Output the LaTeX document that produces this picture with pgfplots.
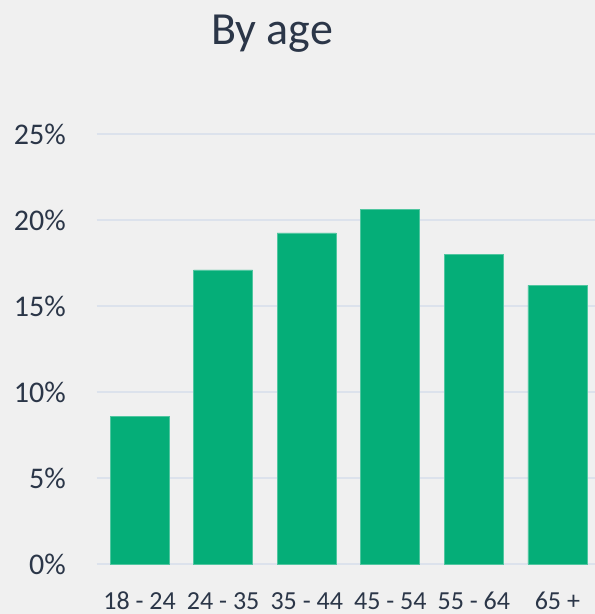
\documentclass[border=0pt]{standalone}
\usepackage{fontspec}
\setmainfont{Carlito}
\usepackage{pgfplots}
\pgfplotsset{compat=1.18}
\definecolor{bg}{HTML}{F0F0F0}
\definecolor{txt}{HTML}{2B3648}
\definecolor{barc}{HTML}{05AE78}
\definecolor{gridc}{HTML}{DCE2EC}
\begin{document}
\begin{tikzpicture}[x=1pt,y=1pt]
\fill[bg] (0,0) rectangle (595,614);
\begin{axis}[
  at={(97pt,50pt)}, anchor=south west,
  scale only axis, width=498pt, height=430pt,
  xmin=-0.51, xmax=5.45, ymin=0, ymax=25,
  axis line style={draw=none},
  major tick length=0pt,
  ytick={0,5,10,15,20,25},
  ymajorgrids, grid style={gridc, line width=1.5pt},
  xtick=data,
  xticklabels={18 - 24, 24 - 35, 35 - 44, 45 - 54, 55 - 64, 65 +},
  yticklabel={\pgfmathprintnumber{\tick}\%},
  /pgf/number format/assume math mode=true,
  xticklabel style={font=\fontsize{26}{28}\selectfont, text=txt, anchor=base, inner sep=0pt, yshift=-45pt},
  yticklabel style={font=\fontsize{30}{32}\selectfont, text=txt, anchor=east, inner sep=0pt, xshift=-31pt},
  clip=false,
]
\addplot[ybar, bar width=59pt, fill=barc, draw=barc!70!white, line width=0.6pt] coordinates {
(0,8.6) (1,17.1) (2,19.25) (3,20.6) (4,18.0) (5,16.2)
};
\end{axis}
\node[font=\fontsize{46}{50}\selectfont, text=txt, anchor=base] at (272,569) {By age};
\pgfresetboundingbox
\path (0,0) rectangle (595,614);
\end{tikzpicture}
\end{document}
